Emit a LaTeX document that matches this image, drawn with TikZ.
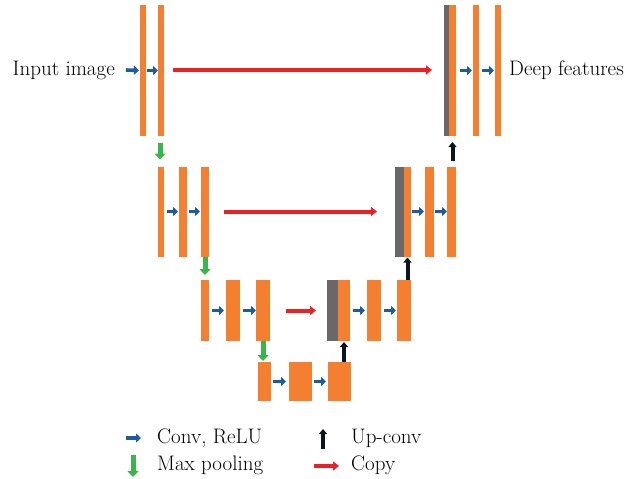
\documentclass[tikz,border=0pt]{standalone}
\usetikzlibrary{arrows.meta,calc}

\definecolor{barorange}{HTML}{F47F30}
\definecolor{bargray}{HTML}{6B6667}
\definecolor{convblue}{HTML}{1F5C9E}
\definecolor{poolgreen}{HTML}{3AB54A}
\definecolor{copyred}{HTML}{ED2024}
\definecolor{updark}{HTML}{0B1520}

\tikzset{
  bar/.style={fill=barorange, draw=none, inner sep=0pt, outer sep=0pt},
  graybar/.style={fill=bargray, draw=none, inner sep=0pt, outer sep=0pt},
  label/.style={inner sep=0pt, font=\fontsize{21}{25}\selectfont},
  conv/.style={draw=convblue, line width=3.6pt, -{Triangle[length=5pt,width=9pt]}},
  pool/.style={draw=poolgreen, line width=5pt, -{Triangle[length=6pt,width=11pt]}},
  copyarrow/.style={draw=copyred, line width=4pt, -{Triangle[length=6pt,width=9pt]}},
  upconv/.style={draw=updark, line width=4pt, -{Triangle[length=5pt,width=8pt]}},
}

\begin{document}
\begin{tikzpicture}[x=1pt,y=-1pt]
\useasboundingbox (0,0) rectangle (625,479);

% ---- level 1 (height 131) ----
\node[bar, minimum width=6pt, minimum height=131pt] (a1) at (143,70.5) {};
\node[bar, minimum width=6pt, minimum height=131pt] (a2) at (161,70.5) {};
\node[graybar, minimum width=5pt, minimum height=131pt] (g1) at (446.5,70.5) {};
\node[bar, minimum width=7pt, minimum height=131pt] (o1) at (452.5,70.5) {};
\node[bar, minimum width=6pt, minimum height=131pt] (e1) at (476,70.5) {};
\node[bar, minimum width=6pt, minimum height=131pt] (f1) at (498,70.5) {};

% ---- level 2 (height 90) ----
\node[bar, minimum width=6pt, minimum height=90pt] (b1) at (161,211.5) {};
\node[bar, minimum width=8pt, minimum height=90pt] (b2) at (183,211.5) {};
\node[bar, minimum width=8pt, minimum height=90pt] (b3) at (205,211.5) {};
\node[graybar, minimum width=9pt, minimum height=90pt] (g2) at (399.5,211.5) {};
\node[bar, minimum width=7pt, minimum height=90pt] (o2) at (407.5,211.5) {};
\node[bar, minimum width=9pt, minimum height=90pt] (e2) at (429.5,211.5) {};
\node[bar, minimum width=9pt, minimum height=90pt] (f2) at (451.5,211.5) {};

% ---- level 3 (height 61) ----
\node[bar, minimum width=8pt, minimum height=61pt] (c1) at (205,310.5) {};
\node[bar, minimum width=14pt, minimum height=61pt] (c2) at (233,310.5) {};
\node[bar, minimum width=14pt, minimum height=61pt] (c3) at (263,310.5) {};
\node[graybar, minimum width=11pt, minimum height=61pt] (g3) at (332.5,310.5) {};
\node[bar, minimum width=12pt, minimum height=61pt] (o3) at (344,310.5) {};
\node[bar, minimum width=14pt, minimum height=61pt] (e3) at (374,310.5) {};
\node[bar, minimum width=14pt, minimum height=61pt] (f3) at (404,310.5) {};

% ---- level 4 (height 39) ----
\node[bar, minimum width=13pt, minimum height=39pt] (d1) at (264.5,381.5) {};
\node[bar, minimum width=23pt, minimum height=39pt] (d2) at (300.5,381.5) {};
\node[bar, minimum width=23pt, minimum height=39pt] (d3) at (339.5,381.5) {};

% ---- input / output labels ----
\node[label, anchor=east] (in) at (115,70) {Input image};
\node[label, anchor=west] (out) at (509,70) {Deep features};

% ---- conv, ReLU arrows ----
\draw[conv] ([xshift=11pt]in.east) -- ([xshift=-1pt]a1.west);
\draw[conv] ([xshift=1pt]a1.east) -- (a2.west);
\draw[conv] ([xshift=4pt]o1.east) -- ([xshift=-1pt]e1.west);
\draw[conv] ([xshift=3pt]e1.east) -- ([xshift=-1pt]f1.west);

\draw[conv] ([xshift=3pt]b1.east) -- ([xshift=-1pt]b2.west);
\draw[conv] ([xshift=2pt]b2.east) -- ([xshift=-1pt]b3.west);
\draw[conv] ([xshift=1pt]o2.east) -- ([xshift=-1pt]e2.west);
\draw[conv] ([xshift=1pt]e2.east) -- (f2.west);

\draw[conv] ([xshift=3pt]c1.east) -- ([xshift=-2pt]c2.west);
\draw[conv] ([xshift=3pt]c2.east) -- (c3.west);
\draw[conv] ([xshift=3pt]o3.east) -- ([xshift=-2pt]e3.west);
\draw[conv] ([xshift=3pt]e3.east) -- ([xshift=-1pt]f3.west);

\draw[conv] ([xshift=2pt]d1.east) -- ([xshift=-3pt]d2.west);
\draw[conv] ([xshift=2pt]d2.east) -- ([xshift=-2pt]d3.west);

% ---- copy arrows ----
\draw[copyarrow] ([xshift=9pt]a2.east |- in.east) -- ([xshift=-12pt]g1.west |- in.east);
\draw[copyarrow] ([xshift=15pt]b3.east) -- ([xshift=-18pt]g2.west);
\draw[copyarrow] ([xshift=16pt]c3.east) -- ([xshift=-11pt]g3.west);

% ---- max pooling arrows ----
\draw[pool] ([xshift=-1pt,yshift=-7pt]a2.south) -- ([xshift=-1pt,yshift=7pt]a2.south |- b1.north);
\draw[pool] (b3.south) -- ([yshift=5pt]c1.north);
\draw[pool] (c3.south) -- ([yshift=1pt]c3.south |- d1.north);

% ---- up-conv arrows ----
\draw[upconv] (o3.south |- d3.north) -- ([yshift=-1pt]o3.south);
\draw[upconv] (o2.south |- f3.north) -- ([yshift=-1pt]o2.south);
\draw[upconv] ([yshift=6pt]o1.south |- f2.north) -- ([yshift=-6pt]o1.south);

% ---- legend ----
\coordinate (k1a) at (126,438);  \coordinate (k1b) at (141,438);
\coordinate (k2a) at (133,455);  \coordinate (k2b) at (133,477);
\coordinate (k3a) at (323,449);  \coordinate (k3b) at (323,429);
\coordinate (k4a) at (314,466);  \coordinate (k4b) at (339,466);
\draw[conv] (k1a) -- (k1b);
\draw[pool] (k2a) -- (k2b);
\draw[upconv] (k3a) -- (k3b);
\draw[copyarrow] (k4a) -- (k4b);
\node[label, anchor=west] (t1) at (157,438) {Conv, ReLU};
\node[label, anchor=west] (t2) at (157,465) {Max pooling};
\node[label, anchor=west] (t3) at (351,438) {Up-conv};
\node[label, anchor=west] (t4) at (351,465) {Copy};
\end{tikzpicture}
\end{document}
